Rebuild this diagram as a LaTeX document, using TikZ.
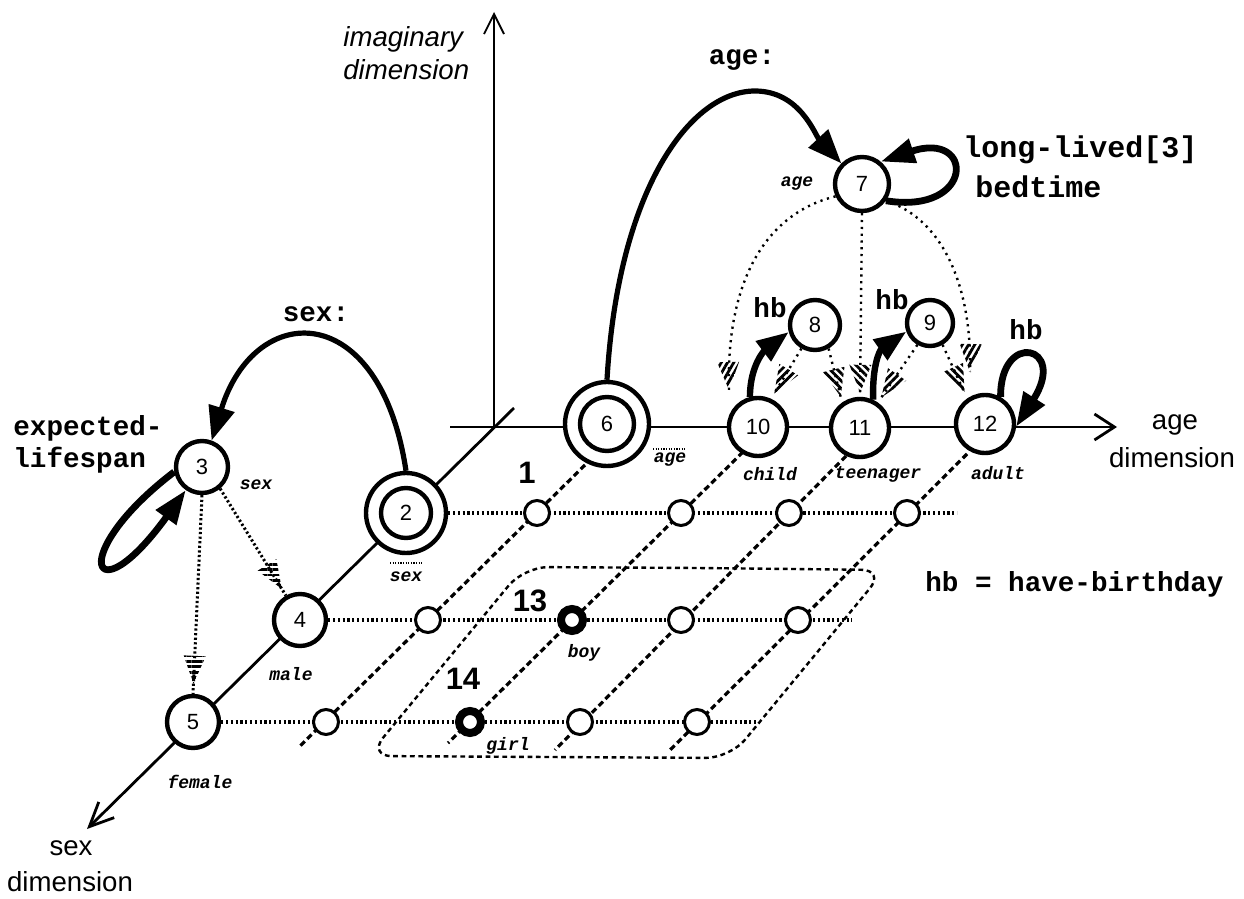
\documentclass[tikz,border=0pt]{standalone}
\usepackage{fontspec}
\setmainfont{Liberation Sans}
\newfontfamily\cour{Liberation Mono}
\usetikzlibrary{arrows.meta,calc,patterns.meta}
\newcommand\htip[3]{%
  \path ($(#1)!14pt!(#2)$) coordinate (hB);
  \fill[pattern={Lines[angle=#3,distance=2.7pt,line width=1.4pt]}]
    (#1) -- ($(hB)!5.5pt!90:(#1)$) -- ($(hB)!5.5pt!-90:(#1)$) -- cycle;}
\begin{document}
\begin{tikzpicture}[x=0.5pt,y=-0.5pt,
  every node/.style={inner sep=0pt},
  st/.style={circle,draw,line width=2.2pt,fill=white,inner sep=0pt,font=\fontsize{11}{12}\selectfont},
  gc/.style={circle,draw,line width=1.5pt,fill=white,minimum size=12.5pt,inner sep=0pt},
  bgc/.style={circle,draw,line width=4pt,fill=white,minimum size=11pt,inner sep=0pt},
  axisln/.style={line width=1.4pt},
  rowln/.style={line width=1.6pt,dash pattern=on 1.1pt off 1.3pt},
  diagln/.style={line width=1.6pt,dash pattern=on 3pt off 1.8pt},
  regln/.style={line width=1.2pt,dash pattern=on 2.4pt off 1.8pt},
  thindot/.style={line width=1.2pt,dash pattern=on 1.1pt off 2.3pt},
  hashdot/.style={line width=1.5pt,dash pattern=on 1.1pt off 1.2pt},
  arcarrow/.style={line width=2.6pt,-{Triangle[length=17pt,width=13pt]}},
  looparrow/.style={line width=3.4pt,-{Triangle[length=17pt,width=12pt]}},
  hbarrow/.style={line width=3.2pt,-{Triangle[length=16pt,width=12pt]}},
  monol/.style={font=\cour\bfseries\fontsize{13.8}{15}\selectfont},
  monobig/.style={font=\cour\bfseries\fontsize{15}{16}\selectfont},
  tinyl/.style={font=\cour\bfseries\itshape\fontsize{9}{10}\selectfont},
  axl/.style={font=\fontsize{13.8}{15}\selectfont},
  numl/.style={font=\bfseries\fontsize{15.5}{17}\selectfont}]
\useasboundingbox (0,0) rectangle (1244,899);
% ---------- coordinates
\coordinate (c2) at (406,513);
\coordinate (c3) at (202,467);
\coordinate (c4) at (300,620);
\coordinate (c5) at (193,722);
\coordinate (c6) at (607,424);
\coordinate (c7) at (862,184);
\coordinate (c8) at (815,325);
\coordinate (c9) at (930,323);
\coordinate (c10) at (758,427);
\coordinate (c11) at (860,428);
\coordinate (c12) at (985,424);
\coordinate (sexA) at (514,408);
\coordinate (sexB) at (87,829);
\coordinate (ageA) at (450,427);
\coordinate (ageB) at (1117,427);
\coordinate (imgA) at (494,427);
\coordinate (imgB) at (494,12);
% ---------- axes
\draw[axisln,-{Straight Barb[length=12pt,width=11pt]}] (sexA) -- (sexB);
\draw[axisln,-{Straight Barb[length=10pt,width=13pt]}] (ageA) -- (ageB);
\draw[line width=0.9pt,-{Straight Barb[length=10pt,width=10pt]}] (imgA) -- (imgB);
% ---------- grid
\coordinate (r1e) at (957,513);
\coordinate (r2e) at (852,620);
\coordinate (r3e) at (757,722);
\coordinate (dA1) at (585,465); \coordinate (dA2) at (299,747);
\coordinate (dB1) at (743,452); \coordinate (dB2) at (448,743);
\coordinate (dC1) at (846,456); \coordinate (dC2) at (555,750);
\coordinate (dD1) at (967,454); \coordinate (dD2) at (670,750);
\draw[diagln] (dA1) -- (dA2);
\draw[diagln] (dB1) -- (dB2);
\draw[diagln] (dC1) -- (dC2);
\draw[diagln] (dD1) -- (dD2);
\draw[regln,rounded corners=12pt] (700,568) -- (885,570) -- (730,758) -- (368,756) -- (524,567) -- cycle;
% ---------- nodes
\node[st,minimum size=26pt] (n3) at (c3) {3};
\node[st,minimum size=26pt] (n4) at (c4) {4};
\node[st,minimum size=26pt] (n5) at (c5) {5};
\node[st,minimum size=40pt] (n2) at (c2) {2};
\draw[line width=2.2pt] (n2.center) circle[radius=25];
\node[st,minimum size=42pt] (n6) at (c6) {6};
\draw[line width=2.2pt] (n6.center) circle[radius=27];
\node[st,minimum size=27pt] (n7) at (c7) {7};
\node[st,minimum size=25pt] (n8) at (c8) {8};
\node[st,minimum size=23pt] (n9) at (c9) {9};
\node[st,minimum size=29pt] (n10) at (c10) {10};
\node[st,minimum size=29pt] (n11) at (c11) {11};
\node[st,minimum size=29pt] (n12) at (c12) {12};
% rows
\draw[rowln] (n2.east) -- (r1e);
\draw[rowln] (n4.east) -- (r2e);
\draw[rowln] (n5.east) -- (r3e);
\node[gc] (g1a) at (537,513) {};
\node[gc] (g1b) at (681,513) {};
\node[gc] (g1c) at (789,513) {};
\node[gc] (g1d) at (907,513) {};
\node[gc] (g2a) at (428,620) {};
\node[bgc] (n13) at (572,620) {};
\node[gc] (g2c) at (681,620) {};
\node[gc] (g2d) at (798,620) {};
\node[gc] (g3a) at (326,722) {};
\node[bgc] (n14) at (470,722) {};
\node[gc] (g3c) at (580,722) {};
\node[gc] (g3d) at (697,722) {};
% ---------- connectors
\draw[arcarrow] (n2.north) .. controls (380,298) and (255,300) .. (n3.70);
\draw[arcarrow] (n6.north) .. controls (618,190) and (690,91) .. (755,91) .. controls (800,91) and (815,135) .. (n7.135);
\draw[looparrow] (n7.-35) .. controls (975,215) and (975,130) .. (n7.50);
\draw[looparrow] (n3.190) .. controls (65,555) and (92,620) .. (n3.235);
\draw[looparrow] (n12.60) .. controls (1000,330) and (1068,345) .. (n12.-5);
\draw[hbarrow] (n10.105) .. controls (750,365) and (765,350) .. (n8.195);
\draw[hbarrow] (n11.65) .. controls (872,365) and (880,350) .. (n9.200);
% hatched connectors around 3
\path ($(n5.north)!5pt!(n3.south)$) coordinate (t35);
\draw[hashdot] (n3.south) -- (n5.north);
\htip{t35}{n3.south}{0}
\path ($(n4.120)!4pt!(n3.-50)$) coordinate (t34);
\draw[hashdot] (n3.-50) -- (n4.120);
\htip{t34}{n3.-50}{0}
% hatched connectors around 7
\coordinate (t7a) at (729,390);
\draw[thindot] (n7.205) .. controls (760,215) and (726,290) .. (t7a);
\htip{t7a}{726,290}{60}
\path ($(n11.north)!2pt!(n7.south)$) coordinate (t7b);
\draw[thindot] (n7.south) -- (t7b);
\htip{t7b}{n7.south}{-45}
\coordinate (t7c) at (970,372);
\draw[thindot] (n7.-35) .. controls (945,220) and (972,290) .. (t7c);
\htip{t7c}{972,290}{60}
\path ($(n10.65)!3pt!(n8.240)$) coordinate (t810);
\draw[thindot] (n8.240) -- (t810);
\htip{t810}{n8.240}{45}
\path ($(n11.125)!3pt!(n8.-60)$) coordinate (t811);
\draw[thindot] (n8.-60) -- (t811);
\htip{t811}{n8.-60}{-45}
\path ($(n11.55)!3pt!(n9.240)$) coordinate (t911);
\draw[thindot] (n9.240) -- (t911);
\htip{t911}{n9.240}{45}
\path ($(n12.125)!3pt!(n9.-60)$) coordinate (t912);
\draw[thindot] (n9.-60) -- (t912);
\htip{t912}{n9.-60}{-45}
% ---------- labels
\node[monol,anchor=west] (lexp) at (13,428) {expected-};
\node[monol,anchor=west] (llife) at (13,460) {lifespan};
\node[monol] (lsex) at (316,314) {sex:};
\node[monol] (lage) at (742,60) {age:};
\node[monobig,anchor=west] (llong) at (963,150) {long-lived[3]};
\node[monobig,anchor=west] (lbed) at (975,187) {bedtime};
\node[monol] (lhb1) at (770,308) {hb};
\node[monol] (lhb2) at (892,300) {hb};
\node[monol] (lhb3) at (1026,330) {hb};
\node[monol,anchor=west] (lhbdef) at (925,584) {hb = have-birthday};
\node[axl,font=\itshape\fontsize{13.8}{15}\selectfont,anchor=base west] (limg1) at (343,47) {imaginary};
\node[axl,font=\itshape\fontsize{13.8}{15}\selectfont,anchor=base west] (limg2) at (343,80) {dimension};
\node[axl] (lagd1) at (1175,425) {age};
\node[axl] (lagd2) at (1172,458) {dimension};
\node[axl] (lsxd1) at (71,848) {sex};
\node[axl] (lsxd2) at (70,882) {dimension};
\node[numl] (l1) at (527,473) {1};
\node[numl] (l13) at (530,601) {13};
\node[numl] (l14) at (463,679) {14};
\node[tinyl] (s3) at (256,485) {sex};
\node[tinyl] (s4) at (291,674) {male};
\node[tinyl] (s5) at (200,782) {female};
\node[tinyl] (s2) at (406,577) {sex};
\draw[line width=0.6pt,dash pattern=on 0.6pt off 0.7pt] (390,563) -- (422,563);
\node[tinyl] (s6) at (670,460) {age};
\draw[line width=0.6pt,dash pattern=on 0.6pt off 0.7pt] (653,449) -- (685,449);
\node[tinyl] (s10) at (770,474) {child};
\node[tinyl] (s11) at (878,474) {teenager};
\node[tinyl] (s12) at (998,473) {adult};
\node[tinyl] (s7) at (797,184) {age};
\node[tinyl] (s13) at (584,653) {boy};
\node[tinyl] (s14) at (508,746) {girl};
\end{tikzpicture}
\end{document}
